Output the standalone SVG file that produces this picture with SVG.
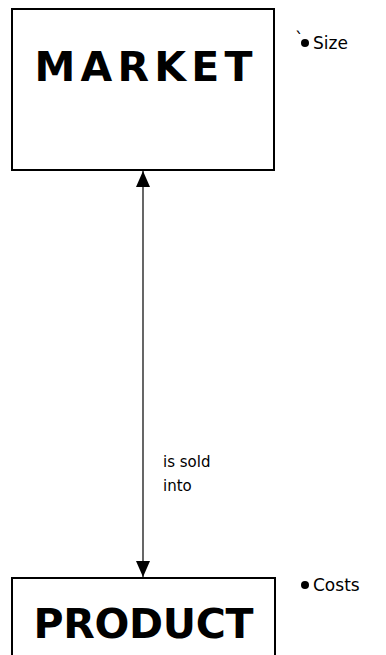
<svg xmlns="http://www.w3.org/2000/svg" width="386" height="655" viewBox="0 0 386 655">
<style>
.box{fill:#fff;stroke:#000;stroke-width:2}
.big{font-family:"DejaVu Sans",sans-serif;font-weight:bold;font-size:41px;fill:#000;text-anchor:middle}
.small{font-family:"DejaVu Sans",sans-serif;font-size:15px;fill:#000}
.attr{font-family:"DejaVu Sans",sans-serif;font-size:17px;fill:#000}
.conn{stroke:#000;stroke-width:1.2;fill:none}
</style>
<defs>
<marker id="ah" viewBox="0 0 16 14" refX="16" refY="7" markerWidth="16" markerHeight="14" markerUnits="userSpaceOnUse" orient="auto-start-reverse">
<path d="M0,0 L16,7 L0,14 Z" fill="#000"/>
</marker>
</defs>
<rect width="386" height="655" fill="#fff"/>
<g id="connectors">
<line class="conn" x1="143" y1="171" x2="143" y2="577" marker-start="url(#ah)" marker-end="url(#ah)"/>
<text class="small" x="163" y="467">is sold</text>
<text class="small" x="163" y="491">into</text>
</g>
<g id="market">
<rect class="box" x="12" y="9" width="262" height="161"/>
<text class="big" x="143.5" y="81" textLength="218">MARKET</text>
</g>
<g id="market-attr">
<text class="attr" x="295" y="45">`</text>
<circle cx="305" cy="43" r="4" fill="#000"/>
<text class="attr" x="313" y="49">Size</text>
</g>
<g id="product">
<rect class="box" x="12" y="578" width="263" height="90"/>
<text class="big" x="143.5" y="638" textLength="220">PRODUCT</text>
</g>
<g id="product-attr">
<circle cx="305" cy="585" r="4" fill="#000"/>
<text class="attr" x="313" y="591">Costs</text>
</g>
</svg>
